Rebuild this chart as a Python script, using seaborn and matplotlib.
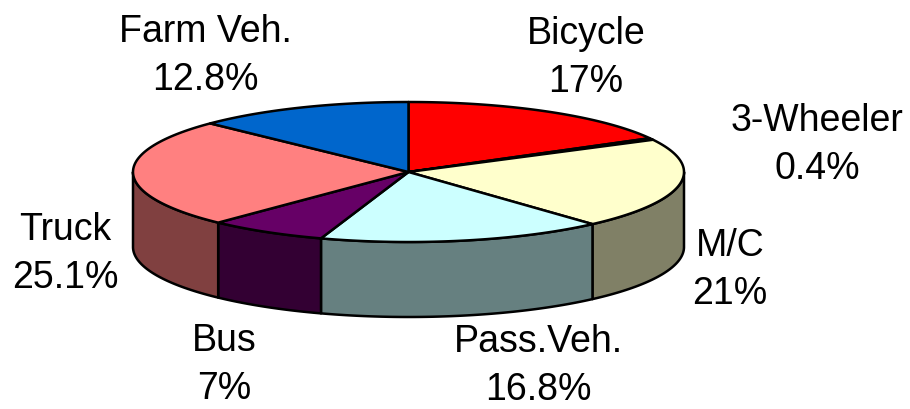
import numpy as np
import matplotlib
matplotlib.use("Agg")
import matplotlib.pyplot as plt
from matplotlib.patches import Polygon
import seaborn as sns

categories = ["Bicycle", "3-Wheeler", "M/C", "Pass.Veh.", "Bus", "Truck", "Farm Veh."]
values = [17, 0.4, 21, 16.8, 7, 25.1, 12.8]
value_labels = ["17%", "0.4%", "21%", "16.8%", "7%", "25.1%", "12.8%"]
top_colors = ["#FF0000", "#330033", "#FFFFCC", "#CCFFFF", "#660066", "#FF8080", "#0066CC"]
side_colors = ["#800000", "#190019", "#808066", "#668080", "#330033", "#804040", "#003366"]

sns.set_theme(style="white")
plt.rcParams["font.family"] = ["Liberation Sans", "DejaVu Sans"]

W, H = 910, 409
fig = plt.figure(figsize=(W / 100, H / 100), dpi=100, facecolor="white")
ax = fig.add_axes([0, 0, 1, 1])
ax.set_xlim(0, W)
ax.set_ylim(H, 0)
ax.axis("off")

cx, cy, rx, ry, depth = 408.5, 172, 275.5, 70, 75
fractions = np.cumsum([0] + values) / np.sum(values)
angles = fractions * 2 * np.pi


def rim(a0, a1, n=80):
    t = np.linspace(a0, a1, n)
    return cx + rx * np.sin(t), cy - ry * np.cos(t)


# side walls: only the front half of the rim (angles pi/2 .. 3pi/2) is visible
for i in range(len(values)):
    a0 = max(angles[i], np.pi / 2)
    a1 = min(angles[i + 1], 3 * np.pi / 2)
    if a1 <= a0:
        continue
    x, y = rim(a0, a1)
    pts = np.r_[np.c_[x, y], np.c_[x[::-1], y[::-1] + depth]]
    ax.add_patch(Polygon(pts, closed=True, fc=side_colors[i], ec="black", lw=1.8, joinstyle="round"))

# top faces
for i in range(len(values)):
    x, y = rim(angles[i], angles[i + 1])
    pts = np.r_[[[cx, cy]], np.c_[x, y]]
    ax.add_patch(Polygon(pts, closed=True, fc=top_colors[i], ec="black", lw=1.8, joinstyle="round"))

label_pos = [(586, 58), (817, 145), (730, 270), (538, 366), (224, 365), (65, 254), (205, 56)]
for name, val, (lx, ly) in zip(categories, value_labels, label_pos):
    ax.text(lx, ly, f"{name}\n{val}", ha="center", va="center", fontsize=27, color="black", linespacing=1.42)

fig.savefig("out.png", dpi=100)
